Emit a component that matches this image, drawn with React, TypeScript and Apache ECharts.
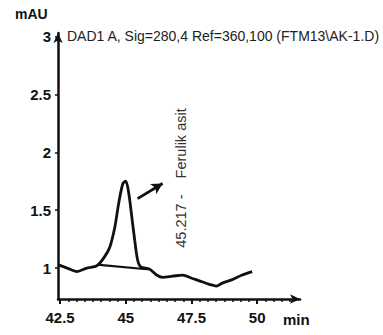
import React, { useEffect, useRef } from "react";
import * as echarts from "echarts";

const timeMin = [42.42, 42.77, 43.14, 43.52, 43.9, 44.17, 44.39, 44.58, 44.73, 44.89, 45.0, 45.11, 45.23, 45.34, 45.45, 45.57, 45.91, 46.17, 46.4, 46.78, 47.16, 47.54, 47.8, 48.18, 48.45, 48.67, 49.05, 49.43, 49.81];
const signal = [1.03, 1.0, 0.97, 1.0, 1.02, 1.09, 1.18, 1.35, 1.56, 1.73, 1.75, 1.65, 1.44, 1.24, 1.07, 1.01, 0.99, 0.94, 0.92, 0.93, 0.94, 0.91, 0.89, 0.86, 0.845, 0.87, 0.9, 0.94, 0.97];
const baselineT = [43.9, 45.8];
const baselineV = [1.03, 0.99];
const arrowFrom = [45.45, 1.6];
const arrowTo = [46.4, 1.73];
const xTicks = [42.5, 45, 47.5, 50];
const yTicks = [1, 1.5, 2, 2.5, 3];
const xMinor: number[] = [];
for (let i = 0; i < 30; i++) xMinor.push(42.5 + i * 0.3125);

const titleText = "DAD1 A, Sig=280,4 Ref=360,100 (FTM13\\AK-1.D)";
const peakLabel = "45.217 -    Ferulik asit";

export default function App() {
  const ref = useRef<HTMLDivElement>(null);
  useEffect(() => {
    if (!ref.current) return;
    document.body.style.margin = "0";
    const chart = echarts.init(ref.current, null, { renderer: "svg" });
    const ink = "#111";
    const font = "Liberation Sans, Arial, sans-serif";
    chart.setOption({
      animation: false,
      grid: { left: 58, right: 83, top: 33, bottom: 36 },
      xAxis: [
        {
          type: "value",
          min: 42.42,
          max: 51.63,
          splitLine: { show: false },
          axisLine: { lineStyle: { color: ink, width: 2.5 }, symbol: ["none", "arrow"], symbolSize: [7, 10] },
          axisTick: { customValues: xTicks, length: 5, lineStyle: { color: ink, width: 2 } },
          axisLabel: { customValues: xTicks, color: ink, fontWeight: "bold", fontSize: 15, fontFamily: font, margin: 11 },
        },
        {
          type: "value",
          position: "bottom",
          min: 42.42,
          max: 51.63,
          splitLine: { show: false },
          axisLine: { show: false },
          axisTick: { customValues: xMinor.filter((v) => v < 51.4), length: 3, lineStyle: { color: ink, width: 1.5 } },
          axisLabel: { show: false },
        },
      ],
      yAxis: {
        type: "value",
        min: 0.733,
        max: 3.03,
        splitLine: { show: false },
        axisLine: { lineStyle: { color: ink, width: 2.5 }, symbol: ["none", "arrow"], symbolSize: [7, 10] },
        axisTick: { customValues: yTicks, length: 3, lineStyle: { color: ink, width: 1.5 } },
        axisLabel: { customValues: yTicks, color: ink, fontWeight: "bold", fontSize: 15, fontFamily: font, margin: 7 },
      },
      graphic: [
        { type: "text", left: 15, top: 7, style: { text: "mAU", fill: ink, font: `bold 14px ${font}` } },
        { type: "text", left: 67, top: 29, style: { text: titleText, fill: "#222", font: `14px ${font}` } },
        { type: "text", left: 283, top: 312, style: { text: "min", fill: ink, font: `bold 15px ${font}` } },
        {
          type: "text",
          x: 181,
          y: 178,
          rotation: Math.PI / 2,
          style: { text: peakLabel, fill: "#333", font: `14.5px ${font}`, align: "center", verticalAlign: "middle" },
        },
      ],
      series: [
        {
          type: "line",
          data: timeMin.map((t, i) => [t, signal[i]]),
          smooth: 0.3,
          symbol: "none",
          lineStyle: { color: ink, width: 2.8 },
        },
        {
          type: "line",
          data: baselineT.map((t, i) => [t, baselineV[i]]),
          symbol: "none",
          lineStyle: { color: ink, width: 2.2 },
          markLine: {
            silent: true,
            symbol: ["none", "arrow"],
            symbolSize: [9, 11],
            label: { show: false },
            lineStyle: { color: ink, width: 2.8, type: "solid" },
            data: [[{ coord: arrowFrom }, { coord: arrowTo }]],
          },
        },
      ],
    });
    return () => chart.dispose();
  }, []);
  return <div ref={ref} style={{ width: 383, height: 335 }} />;
}
